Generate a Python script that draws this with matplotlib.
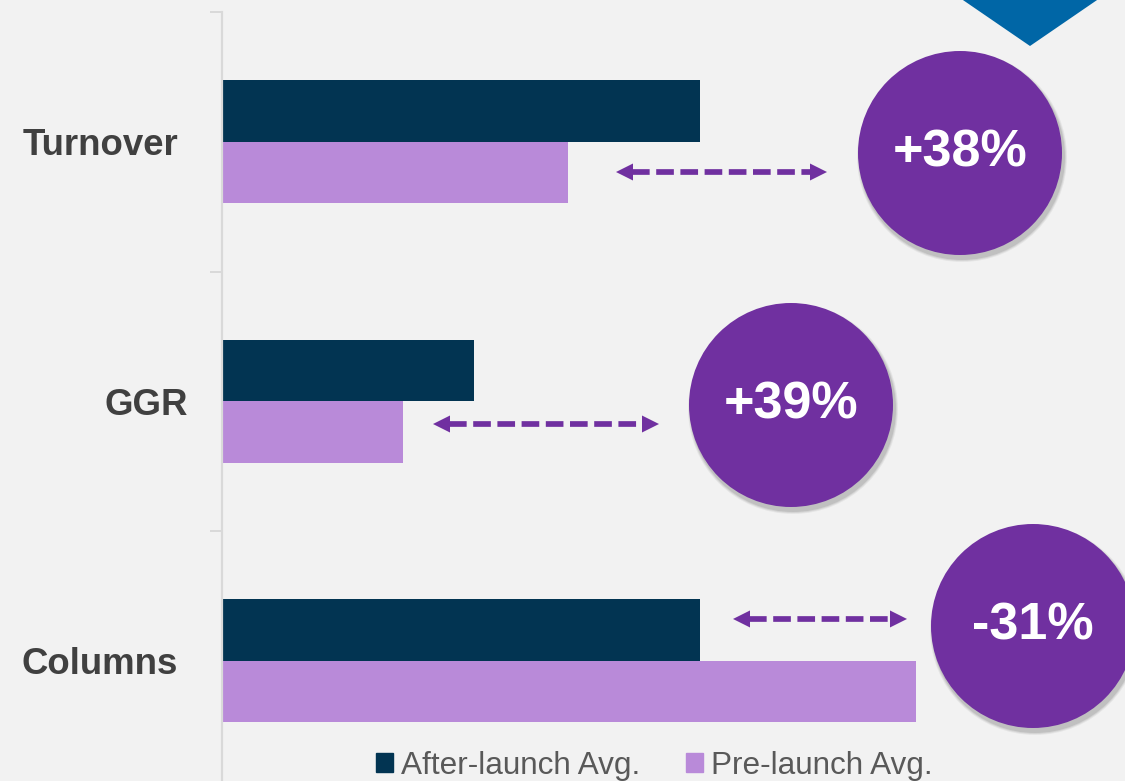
import matplotlib
matplotlib.use("Agg")
import matplotlib.pyplot as plt
from matplotlib.patches import Circle, Polygon, Patch
from matplotlib.transforms import Affine2D

plt.rcParams['font.family'] = ['Liberation Sans', 'DejaVu Sans']

categories = ["Turnover", "GGR", "Columns"]
after_avg = [478, 252, 478]
pre_avg = [346, 181, 694]
series_names = ["After-launch Avg.", "Pre-launch Avg."]

navy = '#023452'
lilac = '#b98ad9'
purple = '#7030a0'
grid_grey = '#d9d9d9'

W, H = 1125, 781
fig = plt.figure(figsize=(W / 100, H / 100), dpi=100, facecolor='#f2f2f2')
# pixel coordinates measured from the top-left corner
px = Affine2D().scale(1 / 100, -1 / 100).translate(0, H / 100) + fig.dpi_scale_trans

# axes spans x 222..1125 px so one data unit is one pixel
ax = fig.add_axes([222 / W, -9.5 / H, 903 / W, 778.5 / H])
ax.set_facecolor('none')
ax.set_xlim(0, 903)
ax.set_ylim(2.5, -0.5)

pos = list(range(len(categories)))
bh = 0.237
ax.barh([p - bh / 2 for p in pos], after_avg, height=bh, color=navy, label=series_names[0], zorder=2)
ax.barh([p + bh / 2 for p in pos], pre_avg, height=bh, color=lilac, label=series_names[1], zorder=2)

for s in ['top', 'right', 'bottom']:
    ax.spines[s].set_visible(False)
ax.spines['left'].set_color(grid_grey)
ax.spines['left'].set_linewidth(1.6)
ax.set_xticks([])
ax.set_yticks(pos)
ax.set_yticklabels([])
ax.tick_params(axis='y', which='major', length=0)
ax.set_yticks([-0.5, 0.5, 1.5], minor=True)
ax.tick_params(axis='y', which='minor', length=8.6, width=1.4, color=grid_grey)

label_right = [-44, -34, -44]
for p, name, xr in zip(pos, categories, label_right):
    ax.text(xr, p, name, ha='right', va='center_baseline', fontsize=26.4,
            fontweight='bold', color='#404040')

# dashed double arrows between the bar pairs and the change bubbles
arrows = [(394, 605, 0.1166), (211, 437, 1.0877), (511, 685, 1.839)]
head = 17
for x0, x1, y in arrows:
    ax.plot([x0 + head - 1, x1 - head + 1], [y, y], color=purple, lw=4.1,
            linestyle=(0, (3.1, 1.15)), solid_capstyle='butt', zorder=3)
    for tip, base in [(x0, x0 + head), (x1, x1 - head)]:
        ax.annotate('', xy=(tip, y), xytext=(base, y),
                    arrowprops=dict(arrowstyle='-|>,head_length=0.4,head_width=0.2',
                                    mutation_scale=30.6, color=purple, lw=0,
                                    shrinkA=0, shrinkB=0), zorder=3)

# change bubbles
bubbles = [(960, 153), (791, 405), (1033, 626)]
r = 102
for (cx, cy), a, b in zip(bubbles, after_avg, pre_avg):
    for k, al in enumerate([0.05, 0.07, 0.09]):
        fig.patches.append(Circle((cx + 2, cy + 4), r + 3 - k, transform=px,
                                  color='#000000', alpha=al, lw=0, zorder=4))
    fig.patches.append(Circle((cx, cy), r, transform=px, color=purple, lw=0, zorder=5))
    change = (a / b - 1) * 100
    fig.text(cx / W, 1 - cy / H, f"{change:+.0f}%", ha='center', va='center',
             fontsize=37.5, fontweight='bold', color='white', zorder=6)

# blue chevron at the top edge
fig.patches.append(Polygon([(960, -2), (1100, -2), (1030, 46)], closed=True,
                           transform=px, color='#0066a6', lw=0, zorder=4))

handles = [Patch(color=navy), Patch(color=lilac)]
fig.legend(handles, series_names, loc='center', bbox_to_anchor=(654 / W, 1 - 766 / H),
           ncol=2, frameon=False, fontsize=22.7, labelcolor='#595959',
           handlelength=0.54, handleheight=0.54, handletextpad=0.25,
           columnspacing=1.45, borderpad=0, borderaxespad=0)

fig.savefig("out.png", dpi=100, facecolor=fig.get_facecolor())
